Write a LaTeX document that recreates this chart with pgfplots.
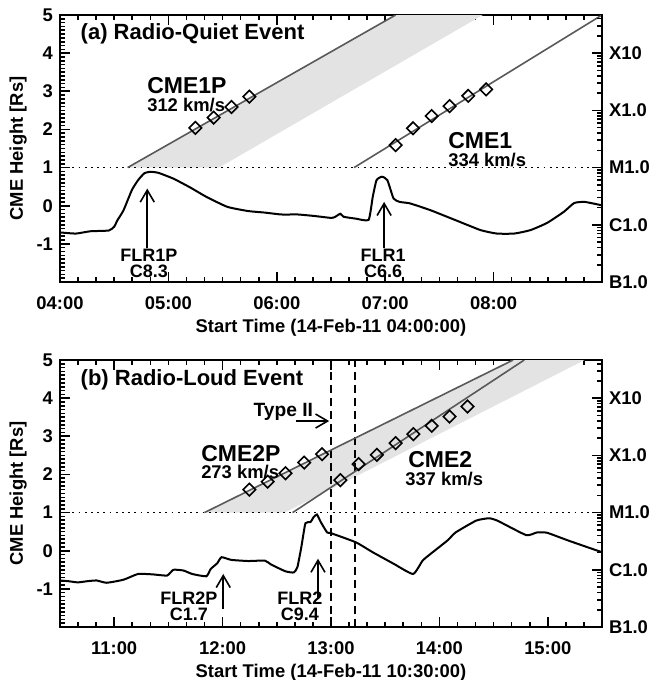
\documentclass[border=0pt]{standalone}
\usepackage{fontspec}
\setmainfont{Liberation Sans}
\usepackage{pgfplots}
\pgfplotsset{compat=1.18}
\usetikzlibrary{arrows.meta}

\newcommand{\fs}[1]{\fontsize{#1}{#1}\selectfont\bfseries}

\tikzset{
  flrlab/.style={align=center, font=\fontsize{9}{8}\selectfont\bfseries},
  cmelab/.style={align=left, anchor=north west, font=\fontsize{9.2}{8.8}\selectfont\bfseries},
}

\pgfplotsset{
  base/.style={
    width=271pt, height=133.5pt, scale only axis,
    ymin=-2, ymax=5,
    ytick={-1,0,1,2,3,4,5},
    yticklabels={-1,0,1,2,3,4,5},
    minor ytick={-2,-1.9,...,5},
    ytick pos=left, xtick pos=both,
    tick align=inside,
    major tick length=5pt, minor tick length=2.5pt,
    every tick/.style={black, line width=0.8pt},
    axis line style={line width=1pt},
    tick label style={font=\fs{9.2}},
    label style={font=\fs{9.2}},
    xticklabel shift=4pt,
    xlabel style={yshift=2.5pt},
    ylabel style={yshift=-2pt},
    /pgf/number format/assume math mode=true,
    ylabel={CME Height [Rs]},
    every node/.append style={inner sep=0.5pt},
  },
  rightax/.style={
    width=271pt, height=133.5pt, scale only axis,
    ymin=1e-7, ymax=4.6416e-3,
    xmin=0, xmax=1,
    hide x axis, axis y line*=right,
    ytick={1e-7,1e-6,1e-5,1e-4,1e-3},
    yticklabels={B1.0,C1.0,M1.0,X1.0,X10},
    minor ytick={2e-7,3e-7,4e-7,5e-7,6e-7,7e-7,8e-7,9e-7,
                 2e-6,3e-6,4e-6,5e-6,6e-6,7e-6,8e-6,9e-6,
                 2e-5,3e-5,4e-5,5e-5,6e-5,7e-5,8e-5,9e-5,
                 2e-4,3e-4,4e-4,5e-4,6e-4,7e-4,8e-4,9e-4,
                 2e-3,3e-3,4e-3},
    tick align=inside,
    major tick length=5pt, minor tick length=2.5pt,
    every tick/.style={black, line width=0.8pt},
    axis line style={line width=1pt},
    tick label style={font=\fs{9.2}},
    /pgf/number format/assume math mode=true,
  },
  cmeline/.style={black!65, line width=0.8pt},
  dia/.style={only marks, mark=square, mark size=2.2pt,
    mark options={rotate=45, solid, fill=white, draw=black, line width=0.8pt}},
  goes/.style={black, line width=1pt, smooth, tension=0.3},
  flrarrow/.style={black, line width=0.8pt, -{Straight Barb[length=6pt, width=7pt, line width=0.8pt]}},
  dotline/.style={black, line width=0.9pt, dash pattern=on 0.9pt off 2.2pt},
}

\begin{document}
\begin{tikzpicture}
\path[use as bounding box] (-30pt,-199pt) rectangle (295pt,141pt);

% ---------------- Panel (a) ----------------
\begin{axis}[base, at={(0pt,0pt)},
  xmin=4, xmax=9,
  xtick={4,5,6,7,8},
  xticklabels={04:00,05:00,06:00,07:00,08:00},
  minor xtick={4.16667,4.33333,4.5,4.66667,4.83333,5.16667,5.33333,5.5,5.66667,5.83333,
               6.16667,6.33333,6.5,6.66667,6.83333,7.16667,7.33333,7.5,7.66667,7.83333,
               8.16667,8.33333,8.5,8.66667,8.83333},
  xlabel={Start Time (14-Feb-11 04:00:00)},
]
\addplot[fill=gray!22, draw=none] coordinates {(4.624,1) (7.096,5) (7.90,5) (5.467,1)} -- cycle;
\addplot[dotline] coordinates {(4,1) (9,1)};
\addplot[cmeline] coordinates {(4.624,1) (7.096,5)};
\addplot[cmeline] coordinates {(6.713,1) (9.0,5)};
\addplot[dia] coordinates {(5.249,2.04) (5.418,2.31) (5.582,2.59) (5.747,2.86)};
\addplot[dia] coordinates {(7.096,1.59) (7.257,2.03) (7.429,2.35) (7.594,2.61) (7.766,2.88) (7.931,3.05)};
\addplot[goes] coordinates {
(4.0,-0.70) (4.146,-0.73) (4.28,-0.67) (4.45,-0.65) (4.50,-0.55) (4.53,-0.38) (4.586,-0.12)
(4.663,0.41) (4.72,0.67) (4.778,0.85) (4.835,0.89) (4.91,0.86) (5.046,0.71) (5.2,0.48)
(5.352,0.23) (5.544,-0.03) (5.736,-0.14) (5.889,-0.18) (6.042,-0.23) (6.195,-0.23)
(6.349,-0.27) (6.502,-0.32) (6.54,-0.29) (6.586,-0.21) (6.617,-0.29) (6.732,-0.34)
(6.847,-0.37) (6.885,0.23) (6.92,0.67) (6.97,0.76) (7.02,0.67) (7.077,0.19) (7.134,0.10)
(7.23,0.06) (7.42,-0.12) (7.65,-0.38) (7.88,-0.64) (8.03,-0.73) (8.19,-0.73) (8.34,-0.64)
(8.494,-0.45) (8.648,-0.16) (8.743,0.07) (8.84,0.10) (9.0,0.01)};
\addplot[flrarrow] coordinates {(4.805,-1.12) (4.805,0.45)};
\addplot[flrarrow] coordinates {(6.99,-1.12) (6.99,0.10)};
\node[anchor=west, font=\fs{11}] at (axis cs:4.126,4.52) {(a) Radio-Quiet Event};
\node[cmelab] at (axis cs:4.74,3.55) {{\fontsize{11.5}{8.8}\selectfont CME1P}\\312 km/s};
\node[cmelab] at (axis cs:7.517,2.10) {{\fontsize{11.5}{8.8}\selectfont CME1}\\334 km/s};
\node[flrlab] at (axis cs:4.82,-1.52) {FLR1P\\C8.3};
\node[flrlab] at (axis cs:6.98,-1.52) {FLR1\\C6.6};
\end{axis}
\begin{semilogyaxis}[rightax, at={(0pt,0pt)}]
\addplot[draw=none, mark=none] coordinates {(0.5,1e-5)};
\end{semilogyaxis}

% ---------------- Panel (b) ----------------
\begin{axis}[base, at={(0pt,-172.5pt)},
  xmin=10.5, xmax=15.5,
  xtick={11,12,13,14,15},
  xticklabels={11:00,12:00,13:00,14:00,15:00},
  minor xtick={10.66667,10.83333,11.16667,11.33333,11.5,11.66667,11.83333,
               12.16667,12.33333,12.5,12.66667,12.83333,13.16667,13.33333,13.5,13.66667,13.83333,
               14.16667,14.33333,14.5,14.66667,14.83333,15.16667,15.33333},
  xlabel={Start Time (14-Feb-11 10:30:00)},
]
\addplot[fill=gray!22, draw=none] coordinates {(11.833,1) (14.68,5) (15.34,5) (12.573,1)} -- cycle;
\addplot[dotline] coordinates {(10.5,1) (15.5,1)};
\addplot[black, line width=0.8pt, dash pattern=on 4pt off 2.5pt] coordinates {(13.0,-2) (13.0,5)};
\addplot[black, line width=0.8pt, dash pattern=on 4pt off 2.5pt] coordinates {(13.224,-2) (13.224,5)};
\addplot[cmeline] coordinates {(11.833,1) (14.68,5)};
\addplot[cmeline] coordinates {(12.646,1) (14.783,5)};
\addplot[dia] coordinates {(12.247,1.60) (12.416,1.81) (12.58,2.03) (12.753,2.31) (12.918,2.53)};
\addplot[dia] coordinates {(13.086,1.85) (13.255,2.27) (13.423,2.515) (13.596,2.82) (13.76,3.056) (13.929,3.274) (14.094,3.518) (14.259,3.78)};
\addplot[goes] coordinates {
(10.5,-0.78) (10.58,-0.80) (10.665,-0.83) (10.75,-0.80) (10.837,-0.78) (10.93,-0.84) (11.086,-0.76)
(11.22,-0.61) (11.354,-0.62) (11.488,-0.65) (11.546,-0.50) (11.64,-0.52) (11.72,-0.61)
(11.85,-0.67) (11.89,-0.48) (11.95,-0.33) (11.99,-0.17) (12.08,-0.24) (12.236,-0.27)
(12.39,-0.26) (12.446,-0.36) (12.58,-0.54) (12.657,-0.57) (12.69,-0.43) (12.726,0.09)
(12.764,0.72) (12.81,0.75) (12.84,0.88) (12.87,0.95) (12.906,0.75) (12.964,0.48)
(13.0,0.46) (13.23,0.22) (13.385,-0.04) (13.577,-0.34) (13.757,-0.61) (13.845,-0.26)
(13.92,-0.08) (14.075,0.27) (14.15,0.48) (14.34,0.79) (14.457,0.85) (14.534,0.79)
(14.80,0.41) (14.90,0.48) (14.994,0.47) (15.186,0.27) (15.5,-0.04)};
\addplot[flrarrow] coordinates {(12.006,-1.52) (12.006,-0.61)};
\addplot[flrarrow] coordinates {(12.88,-1.26) (12.88,-0.21)};
\addplot[flrarrow] coordinates {(12.676,3.40) (12.983,3.40)};
\node[anchor=west, font=\fs{11}] at (axis cs:10.626,4.48) {(b) Radio-Loud Event};
\node[font=\fs{9.6}] at (axis cs:12.56,3.64) {Type II};
\node[cmelab] at (axis cs:11.738,2.95) {{\fontsize{11.5}{8.8}\selectfont CME2P}\\273 km/s};
\node[cmelab] at (axis cs:13.62,2.79) {\hspace*{1.5pt}{\fontsize{11.5}{8.8}\selectfont CME2}\\337 km/s};
\node[flrlab] at (axis cs:11.69,-1.47) {FLR2P\\C1.7};
\node[flrlab] at (axis cs:12.714,-1.47) {FLR2\\C9.4};
\end{axis}
\begin{semilogyaxis}[rightax, at={(0pt,-172.5pt)}]
\addplot[draw=none, mark=none] coordinates {(0.5,1e-5)};
\end{semilogyaxis}
\end{tikzpicture}
\end{document}
